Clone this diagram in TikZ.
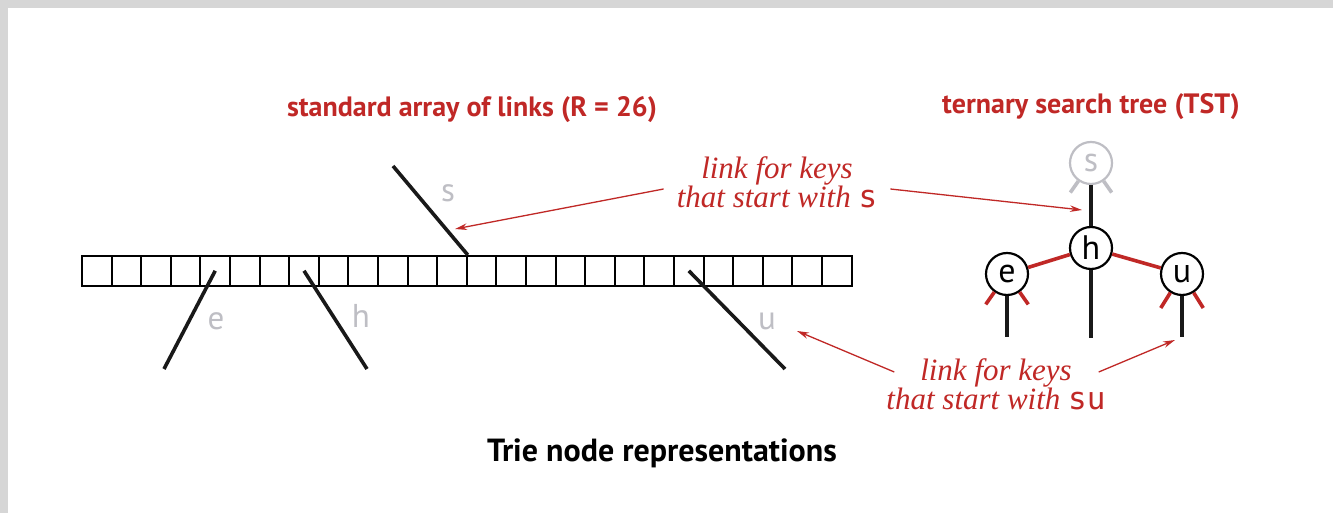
\documentclass[tikz,border=0pt]{standalone}
\usepackage{fontspec}
\setmainfont{Liberation Serif}
\setsansfont{PT Sans}
\setmonofont{DejaVu Sans Mono}
\usepackage{xcolor}
\usetikzlibrary{arrows.meta,positioning,calc}

\definecolor{linkred}{RGB}{192,40,38}
\definecolor{ghostgray}{RGB}{190,190,196}
\definecolor{shadowgray}{RGB}{214,214,214}

\begin{document}
\begin{tikzpicture}[x=1pt, y=1pt,
    cell/.style={draw, line width=2pt, minimum size=29.6pt, inner sep=0pt},
    link/.style={line width=3.6pt, black!90},
    ghost/.style={text=ghostgray, font=\sffamily\fontsize{33}{33}\selectfont, anchor=base},
    tnode/.style={draw, circle, line width=2.2pt, minimum size=42pt, inner sep=0pt, font=\sffamily\fontsize{34}{34}\selectfont},
    redlink/.style={line width=3.6pt, linkred},
    graylink/.style={line width=3.6pt, ghostgray},
    pointer/.style={draw=linkred, line width=1.3pt, -{Stealth[length=12pt,width=6.5pt]}},
    callout/.style={text=linkred, align=center, inner ysep=0pt, font=\itshape\fontsize{31}{28}\selectfont},
    heading/.style={font=\sffamily\bfseries\fontsize{28}{28}\selectfont, anchor=base}]

    % page with its shadow
    \useasboundingbox (0,0) rectangle (1333,513);
    \fill[shadowgray] (0,0) rectangle (1333,513);
    \fill[white] (8,0) rectangle (1333,505);

    % headings
    \node [heading, text=linkred] (titleArray) at (472,396) {standard array of links (R = 26)};
    \node [heading, text=linkred] (titleTST) at (1091,399) {ternary search tree (TST)};
    \node [heading, font=\sffamily\bfseries\fontsize{32}{32}\selectfont] (caption) at (662,51) {Trie node representations};

    % array of 26 links
    \foreach \i in {0,...,25}
        \node [cell] (c\i) at ({82+29.6*(\i+0.5)},242.2) {};

    \coordinate (sEnd) at (393,347);
    \coordinate (eEnd) at (164,144);
    \coordinate (hEnd) at (367,144);
    \coordinate (uEnd) at (785,144);
    \draw [link] (c12.north east) -- (sEnd);
    \draw [link] (c4.center) -- (eEnd);
    \draw [link] (c7.center) -- (hEnd);
    \draw [link] (c20.center) -- (uEnd);

    \node [ghost] (ls) at (448,311) {s};
    \node [ghost] (le) at (216,183) {e};
    \node [ghost] (lh) at (361,185) {h};
    \node [ghost] (lu) at (767,183) {u};

    % ternary search tree
    \node [tnode, draw=ghostgray, text=ghostgray] (ts) at (1091,350) {s};
    \node [tnode] (th) at (1091,265) {h};
    \node [tnode] (te) at (1007,239) {e};
    \node [tnode] (tu) at (1182,239) {u};

    \draw [link] (ts) -- (th);
    \draw [redlink] (th) -- (te);
    \draw [redlink] (th) -- (tu);

    \coordinate (thEnd) at (1091,175);
    \coordinate (teEnd) at (1007,176);
    \coordinate (tuEnd) at (1182,176);
    \draw [link] (th) -- (thEnd);
    \draw [link] (te) -- (teEnd);
    \draw [link] (tu) -- (tuEnd);

    \draw [graylink] (ts.235) -- ++(235:14);
    \draw [graylink] (ts.305) -- ++(305:14);
    \draw [redlink] (te.235) -- ++(235:15);
    \draw [redlink] (te.305) -- ++(305:15);
    \draw [redlink] (tu.238) -- ++(238:18);
    \draw [redlink] (tu.302) -- ++(302:18);

    % callouts
    \node [callout, inner xsep=13pt] (keyS) at (777,331) {link for keys\\that start with {\upshape\ttfamily s}};
    \node [callout, inner xsep=0pt] (keySU) at (996,129) {link for keys\\that start with {\upshape\ttfamily su}};

    \coordinate (sTip) at (455,284);
    \coordinate (tsTip) at (1082,303);
    \coordinate (uTip) at (797,182);
    \coordinate (tuTip) at (1175,173);
    \draw [pointer] ([yshift=-7pt]keyS.west) -- (sTip);
    \draw [pointer] ([yshift=-7pt]keyS.east) -- (tsTip);
    \draw [pointer] ([xshift=8pt,yshift=12pt]keySU.west) -- (uTip);
    \draw [pointer] ([xshift=-7pt,yshift=12pt]keySU.east) -- (tuTip);
\end{tikzpicture}
\end{document}
